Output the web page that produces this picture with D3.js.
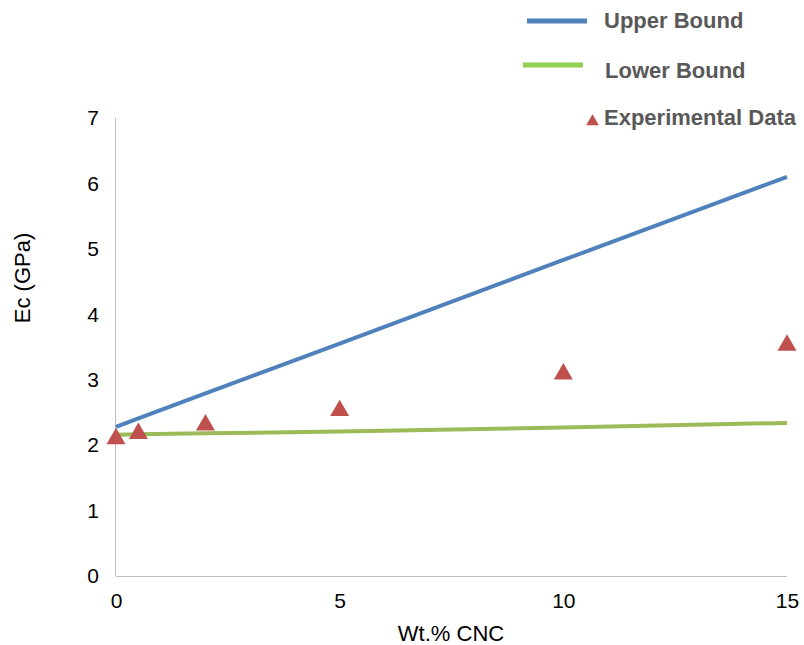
<!DOCTYPE html>
<meta charset="utf-8">
<style>
body { margin: 0; background: #fff; }
svg text { font-family: "Liberation Sans", Arial, sans-serif; }
.axis path { stroke: #bfbfbf; }
.axis line { display: none; }
.axis text { font-size: 21px; fill: #000; }
</style>
<body>
<div id="chart"></div>
<script src="https://d3js.org/d3.v7.min.js"></script>
<script>

// wt.% CNC where the bounds and the experiment were evaluated
var wt = [0, 0.5, 2, 5, 10, 15];
var upperBound = [2.28, 2.41, 2.79, 3.55, 4.83, 6.10];
var lowerBound = [2.16, 2.165, 2.18, 2.21, 2.27, 2.34];
var experimental = [2.14, 2.22, 2.35, 2.57, 3.13, 3.57];

var xTicks = [0, 5, 10, 15];
var yTicks = [0, 1, 2, 3, 4, 5, 6, 7];

var chartWidth = 804, chartHeight = 645;
var margin = {top: 118, right: 17, bottom: 69, left: 116},
    width  = chartWidth - margin.left - margin.right,
    height = chartHeight - margin.top - margin.bottom;

var svg = d3.select("#chart").append("svg")
    .attr("width", chartWidth)
    .attr("height", chartHeight);

var g = svg.append("g")
    .attr("transform", "translate(" + margin.left + "," + margin.top + ")");

var x = d3.scaleLinear().domain([0, 15]).range([0, 671]);
var y = d3.scaleLinear().domain([0, 7]).range([height, 0]);

// axes, no tick marks, light grey lines
g.append("g")
    .attr("class", "axis axis--x")
    .attr("transform", "translate(0," + height + ")")
    .call(d3.axisBottom(x).tickValues(xTicks).tickSize(0).tickPadding(17).tickFormat(d3.format("d")))
    .call(a => a.select(".domain").attr("d", "M0,0.5H" + x(15)));

g.append("g")
    .attr("class", "axis axis--y")
    .call(d3.axisLeft(y).tickValues(yTicks).tickSize(0).tickPadding(17).tickFormat(d3.format("d")))
    .call(a => a.select(".domain").attr("d", "M-0.5," + height + "V0"));

// axis titles
svg.append("text")
    .attr("x", 451)
    .attr("y", 641)
    .attr("text-anchor", "middle")
    .attr("font-size", 22)
    .text("Wt.% CNC");

svg.append("text")
    .attr("transform", "translate(30,278) rotate(-90)")
    .attr("text-anchor", "middle")
    .attr("font-size", 22)
    .text("Ec (GPa)");

// bound lines
var line = d3.line()
    .x((d, i) => x(wt[i]))
    .y(d => y(d));

g.append("path")
    .datum(upperBound)
    .attr("fill", "none")
    .attr("stroke", "#4f81bd")
    .attr("stroke-width", 4)
    .attr("d", line);

g.append("path")
    .datum(lowerBound)
    .attr("fill", "none")
    .attr("stroke", "#9bbb59")
    .attr("stroke-width", 4)
    .attr("d", line);

// experimental points, triangle box centred on the value
var triSize = 156;
var triOff = Math.sqrt(triSize / (Math.sqrt(3) * 3)) / 2;
var tri = d3.symbol().type(d3.symbolTriangle).size(triSize);

g.selectAll(".exp")
    .data(experimental)
    .enter().append("path")
    .attr("class", "exp")
    .attr("fill", "#c0504d")
    .attr("transform", (d, i) => "translate(" + x(wt[i]) + "," + (y(d) + triOff) + ")")
    .attr("d", tri);

// legend
var legend = svg.append("g").attr("class", "legend");

function legendLabel(xp, yp, txt) {
    legend.append("text")
        .attr("x", xp).attr("y", yp)
        .attr("font-size", 22)
        .attr("font-weight", "bold")
        .attr("fill", "#595959")
        .text(txt);
}

legend.append("line")
    .attr("x1", 527).attr("x2", 587).attr("y1", 21).attr("y2", 21)
    .attr("stroke", "#4f81bd").attr("stroke-width", 5);
legendLabel(604, 28, "Upper Bound");

legend.append("line")
    .attr("x1", 523).attr("x2", 583).attr("y1", 65).attr("y2", 65)
    .attr("stroke", "#92d050").attr("stroke-width", 5);
legendLabel(605, 78, "Lower Bound");

legend.append("path")
    .attr("transform", "translate(592.5,121.5)")
    .attr("fill", "#c0504d")
    .attr("d", d3.symbol().type(d3.symbolTriangle).size(70));
legendLabel(604, 125, "Experimental Data");

</script>
